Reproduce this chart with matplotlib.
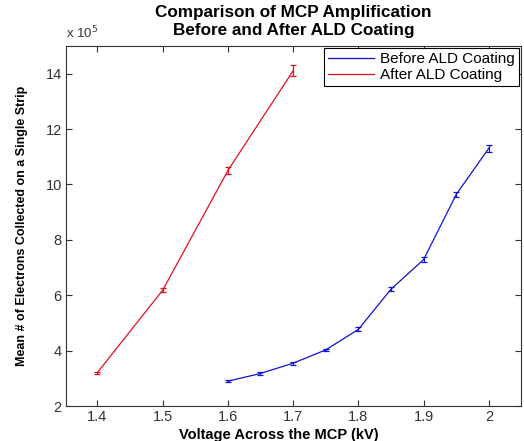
import matplotlib
matplotlib.use('Agg')
import matplotlib.pyplot as plt
from matplotlib.lines import Line2D

plt.rcParams['font.family'] = ['Liberation Sans', 'DejaVu Sans']

# Data (values in units of 1e5 electrons)
volt_before = [1.60, 1.65, 1.70, 1.75, 1.80, 1.85, 1.90, 1.95, 2.00]
mean_before = [2.90, 3.18, 3.55, 4.03, 4.77, 6.22, 7.29, 9.64, 11.31]
err_before = [0.04, 0.04, 0.05, 0.05, 0.07, 0.07, 0.10, 0.10, 0.13]

volt_after = [1.4, 1.5, 1.6, 1.7]
mean_after = [3.21, 6.18, 10.50, 14.10]
err_after = [0.04, 0.07, 0.13, 0.20]

x_ticks = [1.4, 1.5, 1.6, 1.7, 1.8, 1.9, 2.0]
x_labels = ['1.4', '1.5', '1.6', '1.7', '1.8', '1.9', '2']
y_ticks = [2, 4, 6, 8, 10, 12, 14]

blue = '#1010d0'
red = '#e01020'

fig = plt.figure(figsize=(5.24, 4.41), dpi=100)
ax = fig.add_axes([0.126, 0.079, 0.868, 0.817])

ax.errorbar(volt_before, mean_before, yerr=err_before, color=blue,
            linewidth=0.9, elinewidth=0.9, capsize=2.5, capthick=0.9)
ax.errorbar(volt_after, mean_after, yerr=err_after, color=red,
            linewidth=0.9, elinewidth=0.9, capsize=2.5, capthick=0.9)

ax.set_xlim(1.352, 2.049)
ax.set_ylim(2, 15)
ax.set_xticks(x_ticks)
ax.set_xticklabels(x_labels)
ax.set_yticks(y_ticks)
ax.set_yticklabels([str(v) for v in y_ticks])
ax.tick_params(direction='in', top=True, right=True, length=4,
               labelsize=10.5, colors='#333333', pad=3)
for sp in ax.spines.values():
    sp.set_color('#333333')
    sp.set_linewidth(0.8)

ax.text(0.0, 1.012, r'x 10$^{5}$', transform=ax.transAxes, fontsize=9.5,
        ha='left', va='bottom', color='#333333')

ax.set_title('Comparison of MCP Amplification\nBefore and After ALD Coating',
             fontsize=12.3, fontweight='bold', pad=8, linespacing=1.2)
ax.set_xlabel('Voltage Across the MCP (kV)', fontsize=10.5, fontweight='bold')
ax.xaxis.set_label_coords(0.468, -0.06, transform=ax.transAxes)
ax.set_ylabel('Mean # of Electrons Collected on a Single Strip', fontsize=9,
              fontweight='bold')
ax.yaxis.set_label_coords(-0.0835, 0.5, transform=ax.transAxes)

handles = [Line2D([], [], color=blue, linewidth=0.9),
           Line2D([], [], color=red, linewidth=0.9)]
leg = ax.legend(handles, ['Before ALD Coating', 'After ALD Coating'],
                loc='upper right', fontsize=11, frameon=True, fancybox=False,
                borderaxespad=0.15, handlelength=3.0, handletextpad=0.4,
                borderpad=0.25, labelspacing=0.15)
leg.get_frame().set_edgecolor('black')
leg.get_frame().set_linewidth(0.8)
leg.get_frame().set_alpha(1)

fig.savefig('out.png', dpi=100)
